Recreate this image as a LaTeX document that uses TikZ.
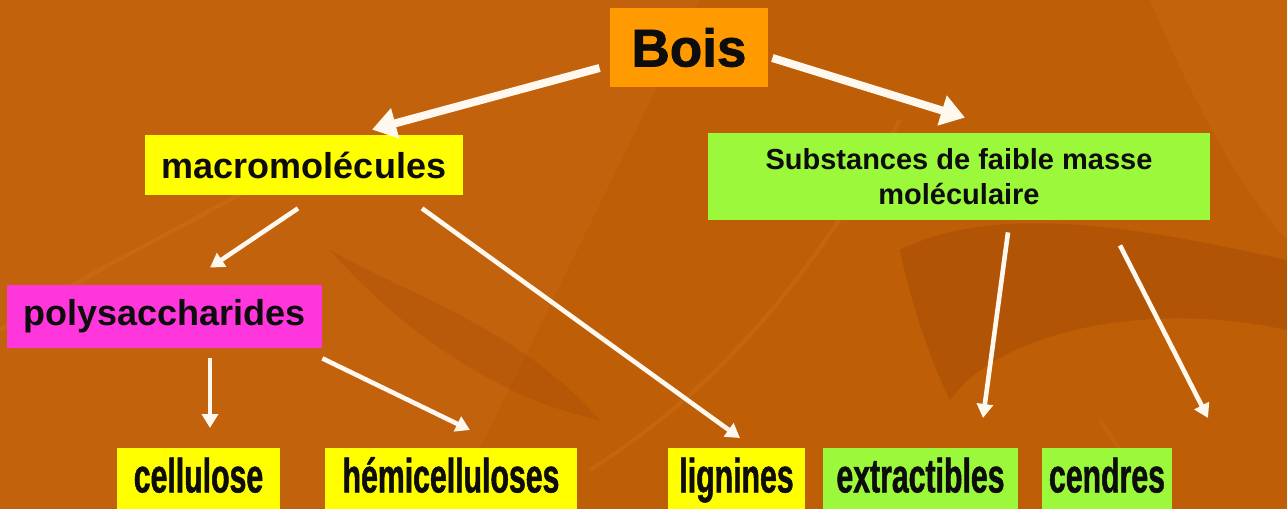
\documentclass[tikz,border=0pt]{standalone}
\usepackage{fontspec}
\setmainfont{Liberation Sans}
\newfontfamily\narrowfont[FakeStretch=0.63,BoldFeatures={FakeBold=1}]{Liberation Sans}
\newfontfamily\heavyfont[BoldFeatures={FakeBold=1.5}]{Liberation Sans}
\usetikzlibrary{arrows.meta}
\definecolor{bg}{HTML}{BE5E07}
\definecolor{bgdark}{HTML}{A94E05}
\definecolor{bglight}{HTML}{CC6E18}
\definecolor{boxorange}{HTML}{FF9A00}
\definecolor{boxyellow}{HTML}{FFFF00}
\definecolor{boxgreen}{HTML}{9CF83A}
\definecolor{boxpink}{HTML}{FF36DC}
\definecolor{arrowwhite}{HTML}{FFF8EE}
\tikzset{
  box/.style={inner sep=0pt, text=black!95, align=center},
  topbox/.style={box, fill=boxorange, minimum width=79pt, minimum height=39.5pt,
                 font=\heavyfont\fontsize{26.5}{30}\selectfont\bfseries},
  midbox/.style={box, minimum height=30pt, font=\fontsize{18}{21}\selectfont\bfseries},
  substbox/.style={box, fill=boxgreen, minimum width=251pt, minimum height=43.5pt,
                 font=\fontsize{14.5}{17.5}\selectfont\bfseries},
  lowbox/.style={box, anchor=north, text height=22pt, text depth=20pt,
                 font=\narrowfont\fontsize{24}{26}\selectfont\bfseries},
  bigarrow/.style={draw=arrowwhite, line width=4pt,
                 -{Triangle[width=15pt,length=12pt]}},
  smallarrow/.style={draw=arrowwhite, line width=2.3pt,
                 -{Triangle[width=8pt,length=7pt]}}
}
\begin{document}
\begin{tikzpicture}[x=0.5pt,y=-0.5pt]
\useasboundingbox (0,0) rectangle (1287,509);
\clip (0,0) rectangle (1287,509);
% background
\fill[bg] (0,0) rectangle (1287,509);
\fill[bglight,opacity=0.3] (0,0) -- (700,0) -- (450,509) -- (0,509) -- cycle;
\fill[bgdark,opacity=0.6] (900,250) .. controls (1000,200) and (1150,230) .. (1287,260)
  -- (1287,330) .. controls (1150,300) and (1000,330) .. (950,400)
  .. controls (930,360) and (910,300) .. (900,250) -- cycle;
\fill[bgdark,opacity=0.4] (330,250) .. controls (420,300) and (520,330) .. (600,420)
  .. controls (500,400) and (400,330) .. (330,250) -- cycle;
\fill[bglight,opacity=0.4] (1150,0) .. controls (1200,120) and (1250,200) .. (1287,240)
  -- (1287,0) -- cycle;
\draw[bglight,line width=2pt,opacity=0.5] (0,330) .. controls (120,250) and (250,200) .. (320,140);
\draw[bglight,line width=2pt,opacity=0.5] (590,470) .. controls (700,400) and (800,300) .. (900,120);
\draw[bglight,line width=2pt,opacity=0.4] (1100,420) -- (1160,509);

% nodes
\node[topbox] (bois) at (689,47.5) {Bois};
\node[midbox, fill=boxyellow, minimum width=159pt] (macro) at (304,165) {macromolécules};
\node[substbox] (subst) at (959,176.5) {Substances de faible masse\\moléculaire};
\node[midbox, fill=boxpink, minimum width=157.5pt, minimum height=31.5pt] (poly) at (164.5,316.5) {polysaccharides};
\node[lowbox, fill=boxyellow, minimum width=81.5pt] (cell) at (198.5,448) {cellulose};
\node[lowbox, fill=boxyellow, minimum width=126pt] (hemi) at (451,448) {hémicelluloses};
\node[lowbox, fill=boxyellow, minimum width=68.5pt] (lign) at (736.5,448) {lignines};
\node[lowbox, fill=boxgreen, minimum width=97.5pt] (extr) at (920.5,448) {extractibles};
\node[lowbox, fill=boxgreen, minimum width=65pt] (cend) at (1107,448) {cendres};

% connectors
\draw[bigarrow] ([shift={(-10,20.5)}]bois.west) -- ([shift={(68,-5)}]macro.north);
\draw[bigarrow] ([shift={(4,10.5)}]bois.east) -- ([shift={(6,-15)}]subst.north);
\draw[smallarrow] ([shift={(-6,13)}]macro.south) -- ([shift={(45.5,-17)}]poly.north);
\draw[smallarrow] ([shift={(118,13)}]macro.south) -- ([shift={(3.5,-10)}]lign.north);
\draw[smallarrow] ([shift={(45.5,10)}]poly.south) -- ([shift={(11.5,-20)}]cell.north);
\draw[smallarrow] ([shift={(0,10)}]poly.south east) -- ([shift={(19,-18)}]hemi.north);
\draw[smallarrow] ([shift={(49,12)}]subst.south) -- ([shift={(62.5,-30)}]extr.north);
\draw[smallarrow] ([shift={(161,25)}]subst.south) -- ([shift={(101,-30)}]cend.north);
\end{tikzpicture}
\end{document}
